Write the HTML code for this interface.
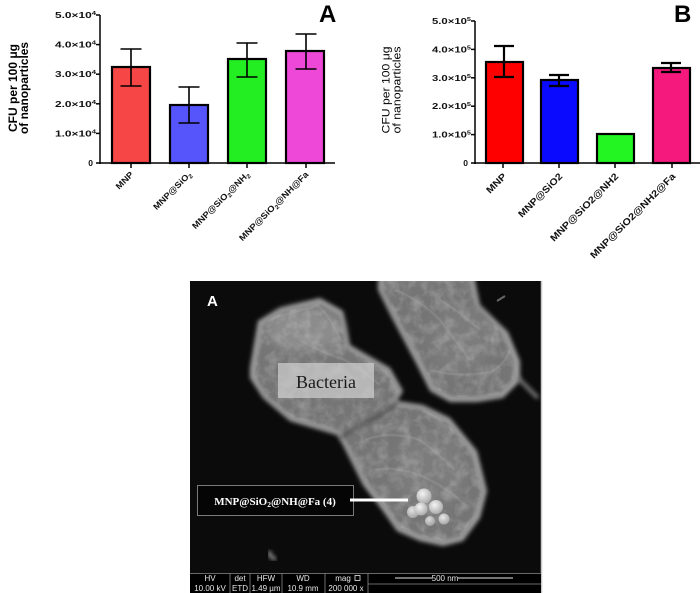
<!DOCTYPE html>
<html><head><meta charset="utf-8"><style>
html,body{margin:0;padding:0;background:#fff;}
svg{display:block;}
</style></head><body>
<svg width="700" height="593" viewBox="0 0 700 593" xmlns="http://www.w3.org/2000/svg">
<defs>
  <filter id="blur2" x="-20%" y="-20%" width="140%" height="140%"><feGaussianBlur stdDeviation="2"/></filter>
  <filter id="blur1" x="-20%" y="-20%" width="140%" height="140%"><feGaussianBlur stdDeviation="0.8"/></filter>
  <filter id="blur4" x="-30%" y="-30%" width="160%" height="160%"><feGaussianBlur stdDeviation="5"/></filter>
  <filter id="tex" x="0" y="0" width="100%" height="100%">
    <feTurbulence type="fractalNoise" baseFrequency="0.09" numOctaves="3" seed="4" result="n"/>
    <feColorMatrix in="n" type="matrix" values="0 0 0 0 1  0 0 0 0 1  0 0 0 0 1  1.4 0 0 0 -0.55" result="w"/>
    <feComposite in="w" in2="SourceAlpha" operator="in"/>
  </filter>
  <radialGradient id="np" cx="0.4" cy="0.35" r="0.7">
    <stop offset="0" stop-color="#f4f4f4"/>
    <stop offset="1" stop-color="#a8a8a8"/>
  </radialGradient>
</defs>
<rect width="700" height="593" fill="#fff"/>

<!-- ================= CHART A ================= -->
<g font-family="Liberation Sans, Arial, sans-serif">
  <text transform="translate(17,88) rotate(-90)" text-anchor="middle" font-size="11.5" font-weight="bold" textLength="88" lengthAdjust="spacingAndGlyphs">CFU per 100 μg</text>
  <text transform="translate(28,88) rotate(-90)" text-anchor="middle" font-size="11.5" font-weight="bold" textLength="92" lengthAdjust="spacingAndGlyphs">of nanoparticles</text>

  <g font-size="8.5" font-weight="bold" fill="#111">
    <text x="96" y="18" text-anchor="end" textLength="41" lengthAdjust="spacingAndGlyphs">5.0×10<tspan dy="-3" font-size="5.5">4</tspan></text>
    <text x="96" y="47.6" text-anchor="end" textLength="41" lengthAdjust="spacingAndGlyphs">4.0×10<tspan dy="-3" font-size="5.5">4</tspan></text>
    <text x="96" y="77.2" text-anchor="end" textLength="41" lengthAdjust="spacingAndGlyphs">3.0×10<tspan dy="-3" font-size="5.5">4</tspan></text>
    <text x="96" y="106.8" text-anchor="end" textLength="41" lengthAdjust="spacingAndGlyphs">2.0×10<tspan dy="-3" font-size="5.5">4</tspan></text>
    <text x="96" y="136.4" text-anchor="end" textLength="41" lengthAdjust="spacingAndGlyphs">1.0×10<tspan dy="-3" font-size="5.5">4</tspan></text>
    <text x="93" y="166" text-anchor="end">0</text>
  </g>
  <g stroke="#000" stroke-width="1.5" fill="none">
    <line x1="100" y1="15" x2="100" y2="164"/>
    <line x1="99.3" y1="163" x2="335" y2="163"/>
    <line x1="96" y1="15" x2="100" y2="15"/>
    <line x1="96" y1="44.6" x2="100" y2="44.6"/>
    <line x1="96" y1="74.2" x2="100" y2="74.2"/>
    <line x1="96" y1="103.8" x2="100" y2="103.8"/>
    <line x1="96" y1="133.4" x2="100" y2="133.4"/>
    <line x1="96" y1="163" x2="100" y2="163"/>
    <line x1="131" y1="163" x2="131" y2="168"/>
    <line x1="189" y1="163" x2="189" y2="168"/>
    <line x1="247" y1="163" x2="247" y2="168"/>
    <line x1="306" y1="163" x2="306" y2="168"/>
  </g>
  <g stroke="#000" stroke-width="2.2">
    <rect x="112" y="67" width="38" height="96" fill="#f64646"/>
    <rect x="170" y="105" width="38" height="58" fill="#5555fb"/>
    <rect x="228" y="59" width="38" height="104" fill="#22ee22"/>
    <rect x="286" y="51" width="38" height="112" fill="#ee48d8"/>
  </g>
  <g stroke="#000" stroke-width="1.6" fill="none">
    <path d="M131 49V86M120.5 49H141.5M120.5 86H141.5"/>
    <path d="M189 87V123M178.5 87H199.5M178.5 123H199.5"/>
    <path d="M247 43V77M236.5 43H257.5M236.5 77H257.5"/>
    <path d="M306 34V69M295.5 34H316.5M295.5 69H316.5"/>
  </g>
  <g font-size="8.5" font-weight="bold" fill="#111">
    <text transform="translate(134,175) rotate(-45)" text-anchor="end" textLength="21" lengthAdjust="spacingAndGlyphs">MNP</text>
    <text transform="translate(192,175) rotate(-45)" text-anchor="end" textLength="50" lengthAdjust="spacingAndGlyphs">MNP@SiO<tspan font-size="6" dy="2">2</tspan></text>
    <text transform="translate(250,175) rotate(-45)" text-anchor="end" textLength="77" lengthAdjust="spacingAndGlyphs">MNP@SiO<tspan font-size="6" dy="2">2</tspan><tspan dy="-2">@NH</tspan><tspan font-size="6" dy="2">2</tspan></text>
    <text transform="translate(309,175) rotate(-45)" text-anchor="end" textLength="94" lengthAdjust="spacingAndGlyphs">MNP@SiO<tspan font-size="6" dy="2">2</tspan><tspan dy="-2">@NH@Fa</tspan></text>
  </g>
  <text x="319" y="22" font-size="24" font-weight="bold" fill="#000">A</text>
</g>

<!-- ================= CHART B ================= -->
<g font-family="Liberation Sans, Arial, sans-serif">
  <text transform="translate(389.5,90) rotate(-90)" text-anchor="middle" font-size="11" textLength="87" lengthAdjust="spacingAndGlyphs">CFU per 100 μg</text>
  <text transform="translate(400.5,90) rotate(-90)" text-anchor="middle" font-size="11" textLength="87" lengthAdjust="spacingAndGlyphs">of nanoparticles</text>

  <g font-size="8.5" font-weight="bold" fill="#111">
    <text x="471" y="24" text-anchor="end" textLength="39" lengthAdjust="spacingAndGlyphs">5.0×10<tspan dy="-3" font-size="5.5">5</tspan></text>
    <text x="471" y="52.4" text-anchor="end" textLength="39" lengthAdjust="spacingAndGlyphs">4.0×10<tspan dy="-3" font-size="5.5">5</tspan></text>
    <text x="471" y="80.8" text-anchor="end" textLength="39" lengthAdjust="spacingAndGlyphs">3.0×10<tspan dy="-3" font-size="5.5">5</tspan></text>
    <text x="471" y="109.2" text-anchor="end" textLength="39" lengthAdjust="spacingAndGlyphs">2.0×10<tspan dy="-3" font-size="5.5">5</tspan></text>
    <text x="471" y="137.6" text-anchor="end" textLength="39" lengthAdjust="spacingAndGlyphs">1.0×10<tspan dy="-3" font-size="5.5">5</tspan></text>
    <text x="468" y="166" text-anchor="end">0</text>
  </g>
  <g stroke="#000" stroke-width="1.5" fill="none">
    <line x1="475" y1="21" x2="475" y2="164"/>
    <line x1="474.3" y1="163" x2="700" y2="163"/>
    <line x1="471" y1="21" x2="475" y2="21"/>
    <line x1="471" y1="49.4" x2="475" y2="49.4"/>
    <line x1="471" y1="77.8" x2="475" y2="77.8"/>
    <line x1="471" y1="106.2" x2="475" y2="106.2"/>
    <line x1="471" y1="134.6" x2="475" y2="134.6"/>
    <line x1="471" y1="163" x2="475" y2="163"/>
    <line x1="503" y1="163" x2="503" y2="168"/>
    <line x1="559" y1="163" x2="559" y2="168"/>
    <line x1="615" y1="163" x2="615" y2="168"/>
    <line x1="672" y1="163" x2="672" y2="168"/>
  </g>
  <g stroke="#000" stroke-width="2.2">
    <rect x="486" y="62" width="37" height="101" fill="#ff0000"/>
    <rect x="541" y="80" width="37" height="83" fill="#0a0aff"/>
    <rect x="597" y="134" width="37" height="29" fill="#22f522"/>
    <rect x="653" y="68" width="37" height="95" fill="#f5197d"/>
  </g>
  <g stroke="#000" stroke-width="2.2" fill="none">
    <path d="M504 46V77M494 46H514M494 77H514"/>
    <path d="M559 75V86M549 75H569M549 86H569"/>
    <path d="M671 63V72M661 63H681M661 72H681"/>
  </g>
  <g font-size="9.5" font-weight="bold" fill="#111">
    <text transform="translate(507,177) rotate(-45)" text-anchor="end" textLength="24" lengthAdjust="spacingAndGlyphs">MNP</text>
    <text transform="translate(563,177) rotate(-45)" text-anchor="end" textLength="58" lengthAdjust="spacingAndGlyphs">MNP@SiO2</text>
    <text transform="translate(619,177) rotate(-45)" text-anchor="end" textLength="92" lengthAdjust="spacingAndGlyphs">MNP@SiO2@NH2</text>
    <text transform="translate(676,177) rotate(-45)" text-anchor="end" textLength="116" lengthAdjust="spacingAndGlyphs">MNP@SiO2@NH2@Fa</text>
  </g>
  <text x="674" y="22" font-size="24" font-weight="bold" fill="#000">B</text>
</g>

<!-- ================= SEM IMAGE ================= -->
<g>
  <rect x="190" y="281" width="351" height="292" fill="#0b0b0b"/>
  <line x1="541.5" y1="281" x2="541.5" y2="593" stroke="#c8c8c8" stroke-width="1.5"/>
  <clipPath id="semclip"><rect x="190" y="281" width="351" height="292"/></clipPath>
  <g clip-path="url(#semclip)">
    <!-- right cell -->
    <g filter="url(#blur2)">
      <polygon points="378,276 474,276 480,305 508,332 520,361 520,381 503,398 477,402 450,402 430,391 417,365 392,318 378,290" fill="#a2a2a2"/>
      <polygon points="382,279 470,279 476,306 503,334 514,361 514,379 500,394 477,397 452,397 434,388 422,363 397,318 383,292" fill="#747474"/>
    </g>
    <path d="M518 378 L530 390 L538 398" stroke="#777" stroke-width="4" filter="url(#blur2)"/>
    <!-- left cell -->
    <g filter="url(#blur2)">
      <polygon points="250,368 258,321 280,308 320,298 343,311 350,345 390,368 403,391 397,401 423,405 450,418 477,451 487,491 480,518 463,541 443,546 420,541 397,531 383,511 363,485 343,445 337,435 290,421 263,398 250,378" fill="#a4a4a4"/>
      <polygon points="255,367 262,324 282,312 320,303 340,315 347,348 386,371 398,391 393,404 422,409 447,422 472,453 482,491 475,516 460,537 443,541 421,536 400,527 387,508 367,483 347,444 338,431 292,417 266,396 255,377" fill="#757575"/>
    </g>
    <ellipse cx="305" cy="330" rx="38" ry="22" fill="#8c8c8c" filter="url(#blur4)"/>
    <ellipse cx="430" cy="470" rx="35" ry="40" fill="#7c7c7c" filter="url(#blur4)"/>
    <ellipse cx="460" cy="340" rx="30" ry="35" fill="#7b7b7b" filter="url(#blur4)"/>
    <!-- texture -->
    <g filter="url(#tex)" opacity="0.35">
      <polygon points="255,367 262,324 282,312 320,303 340,315 347,348 386,371 398,391 393,404 422,409 447,422 472,453 482,491 475,516 460,537 443,541 421,536 400,527 387,508 367,483 347,444 338,431 292,417 266,396 255,377" fill="#000"/>
      <polygon points="382,279 470,279 476,306 503,334 514,361 514,379 500,394 477,397 452,397 434,388 422,363 397,318 383,292" fill="#000"/>
    </g>
    <!-- ridges -->
    <g stroke="#a8a8a8" stroke-width="1.2" fill="none" opacity="0.6" filter="url(#blur1)">
      <path d="M270 320 Q290 312 318 306 Q332 318 340 340"/>
      <path d="M300 340 Q320 352 345 360 Q365 372 380 385"/>
      <path d="M365 440 Q390 430 420 440 Q440 455 455 470"/>
      <path d="M375 470 Q400 465 430 480 Q450 490 465 505"/>
      <path d="M395 290 Q420 300 440 320 Q455 340 470 360"/>
      <path d="M430 370 Q460 378 490 372 Q505 365 510 350"/>
      <path d="M440 300 Q460 312 480 330"/>
    </g>
    <!-- division crack -->
    <path d="M340 438 Q360 425 375 418 Q388 410 398 402" stroke="#3a3a3a" stroke-width="2" fill="none" filter="url(#blur2)"/>
    <!-- nanoparticles -->
    <g>
      <circle cx="413" cy="512" r="6" fill="url(#np)" opacity="0.85"/>
      <circle cx="424" cy="496" r="7.5" fill="url(#np)"/>
      <circle cx="421" cy="509" r="6.5" fill="url(#np)"/>
      <circle cx="436" cy="507" r="7" fill="url(#np)"/>
      <circle cx="444" cy="519" r="5.5" fill="url(#np)" opacity="0.9"/>
      <circle cx="430" cy="521" r="5" fill="url(#np)" opacity="0.8"/>
    </g>
    <!-- debris -->
    <path d="M270 551 Q268 557 276 559" stroke="#aaa" stroke-width="3" fill="none" filter="url(#blur2)"/>
    <line x1="497" y1="301" x2="505" y2="296" stroke="#666" stroke-width="2"/>
  </g>

  <!-- labels -->
  <text x="207" y="306" font-family="Liberation Sans, Arial, sans-serif" font-size="15" font-weight="bold" fill="#fff">A</text>
  <rect x="278" y="363" width="96" height="35" fill="#d0d0d0" fill-opacity="0.72"/>
  <text x="326" y="388" text-anchor="middle" font-family="Liberation Serif, serif" font-size="18" fill="#1a1a1a">Bacteria</text>

  <rect x="197.5" y="485.5" width="156" height="30" fill="#050505" stroke="#7a7a7a" stroke-width="1"/>
  <text x="275" y="505" text-anchor="middle" font-family="Liberation Serif, serif" font-size="11" font-weight="bold" fill="#fff">MNP@SiO<tspan font-size="7.5" dy="2">2</tspan><tspan dy="-2">@NH@Fa (4)</tspan></text>
  <line x1="350" y1="500" x2="408" y2="500" stroke="#fff" stroke-width="3"/>

  <!-- info bar -->
  <rect x="190" y="573" width="351" height="20" fill="#000"/>
  <g stroke="#8a8a8a" stroke-width="0.8">
    <line x1="190" y1="573.5" x2="541" y2="573.5"/>
    <line x1="230" y1="573" x2="230" y2="593"/>
    <line x1="250" y1="573" x2="250" y2="593"/>
    <line x1="282" y1="573" x2="282" y2="593"/>
    <line x1="325" y1="573" x2="325" y2="593"/>
    <line x1="368" y1="573" x2="368" y2="593"/>
    <line x1="368" y1="584" x2="541" y2="584"/>
  </g>
  <g font-family="Liberation Sans, Arial, sans-serif" font-size="8" fill="#e8e8e8" text-anchor="middle">
    <text x="210" y="581">HV</text>
    <text x="240" y="581">det</text>
    <text x="266" y="581">HFW</text>
    <text x="303" y="581">WD</text>
    <text x="343" y="581">mag</text>
    <rect x="355" y="575.5" width="5" height="5" fill="none" stroke="#e8e8e8" stroke-width="0.8"/>
    <text x="210" y="591">10.00 kV</text>
    <text x="240" y="591">ETD</text>
    <text x="266" y="591">1.49 µm</text>
    <text x="303" y="591">10.9 mm</text>
    <text x="346" y="591">200 000 x</text>
    <text x="445" y="581">500 nm</text>
  </g>
  <line x1="395" y1="578" x2="432" y2="578" stroke="#e8e8e8" stroke-width="1"/>
  <line x1="458" y1="578" x2="513" y2="578" stroke="#e8e8e8" stroke-width="1"/>
</g>
</svg>
</body></html>
